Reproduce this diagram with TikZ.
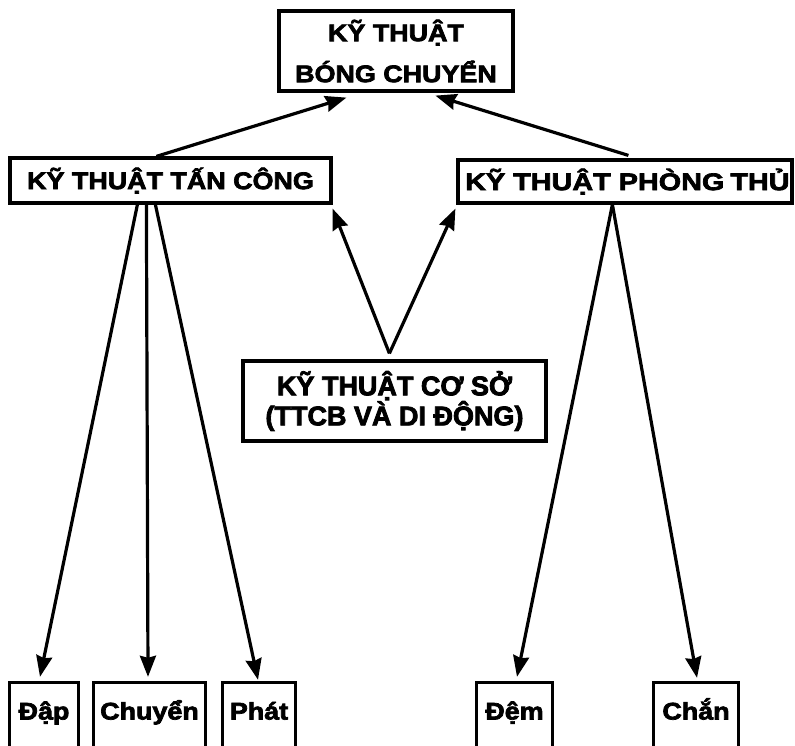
\documentclass[tikz,border=0pt]{standalone}
\usepackage{fontspec}
\setmainfont{Liberation Sans}
\newfontfamily\widesans[FakeStretch=1.12,FakeBold=3]{Liberation Sans}
\newfontfamily\widersans[FakeStretch=1.2,FakeBold=3]{Liberation Sans}
\newfontfamily\heavysans[FakeBold=3]{Liberation Sans}
\usetikzlibrary{arrows.meta,calc}

\tikzset{
  box/.style={draw, line width=3.2pt, inner sep=0pt, align=center},
  boxline/.style={line width=3.2pt, line join=miter},
  lbl/.style={font=\widesans\bfseries\fontsize{24}{41}\selectfont},
  lblwide/.style={font=\widersans\bfseries\fontsize{24}{30}\selectfont},
  lblnarrow/.style={font=\heavysans\bfseries\fontsize{27}{30}\selectfont},
  leaf/.style={inner sep=0pt, minimum height=60pt, text height=18pt, text depth=5pt,
    font=\widesans\bfseries\fontsize{24}{28}\selectfont},
  arr/.style={line width=3.2pt, -{Stealth[length=21pt,width=16pt,inset=2pt]}},
}

\begin{document}
\begin{tikzpicture}[x=1pt,y=-1pt]
\useasboundingbox (0,0) rectangle (795,745);
\clip (0,0) rectangle (795,745);

% upper level
\node[box, lbl, minimum width=234pt, minimum height=80pt] (top) at (396,51)
  {KỸ THUẬT\\BÓNG CHUYỂN};
\node[box, lbl, minimum width=321pt, minimum height=45pt] (tc) at (170.5,180.5)
  {KỸ THUẬT TẤN CÔNG};
\node[box, minimum width=334pt, minimum height=43pt] (pt) at (625,181.5) {};
\begin{scope}
  \clip (pt.south west) rectangle (pt.north east);
  \node[lblwide, anchor=west, inner sep=0pt] (ptText) at (465,181.5)
    {KỸ THUẬT PHÒNG\hspace{6pt}THỦ};
\end{scope}
\node[box, lblnarrow, minimum width=303pt, minimum height=80pt] (cs) at (394.5,401)
  {KỸ THUẬT CƠ SỞ\\(TTCB VÀ DI ĐỘNG)};

% leaves, open at the bottom
\node[leaf, minimum width=68pt]  (dap)    at (44,713)    {Đập};
\node[leaf, minimum width=111pt] (chuyen) at (149.5,713) {Chuyển};
\node[leaf, minimum width=72pt]  (phat)   at (259,713)   {Phát};
\node[leaf, minimum width=75pt]  (dem)    at (514.5,713) {Đệm};
\node[leaf, minimum width=84pt]  (chan)   at (696,713)   {Chắn};
\foreach \n in {dap,chuyen,phat,dem,chan}
  \draw[boxline] ($(\n.north west)+(0,80)$) |- (\n.north east) -- ++(0,80);

% connectors
\coordinate (tcUp)  at ($(tc.north west)+(148,0)$);
\coordinate (ptUp)  at ($(pt.north west)+(172,-3)$);
\coordinate (topL)  at ($(top.south west)+(69,5)$);
\coordinate (topR)  at ($(top.south west)+(158,3)$);
\draw[arr] (tcUp) -- (topL);
\draw[arr] (ptUp) -- (topR);

\coordinate (csUp)  at ($(cs.north west)+(148,-6)$);
\draw[arr] (csUp) -- ($(tc.south east)+(0,4)$);
\draw[arr] (csUp) -- ($(pt.south west)+(-1,4)$);

\draw[arr] ($(tc.south west)+(129,0)$) -- ($(dap.north)+(-4,-6)$);
\draw[arr] ($(tc.south west)+(138,0)$) -- ($(chuyen.north)+(-1.5,-6)$);
\draw[arr] ($(tc.south west)+(147,0)$) -- ($(phat.north)+(-1,-3)$);

\coordinate (ptDown) at ($(pt.south west)+(156,0)$);
\draw[arr] (ptDown) -- ($(dem.north)+(2.5,-6)$);
\draw[arr] (ptDown) -- ($(chan.north)+(1,-5)$);
\end{tikzpicture}
\end{document}
